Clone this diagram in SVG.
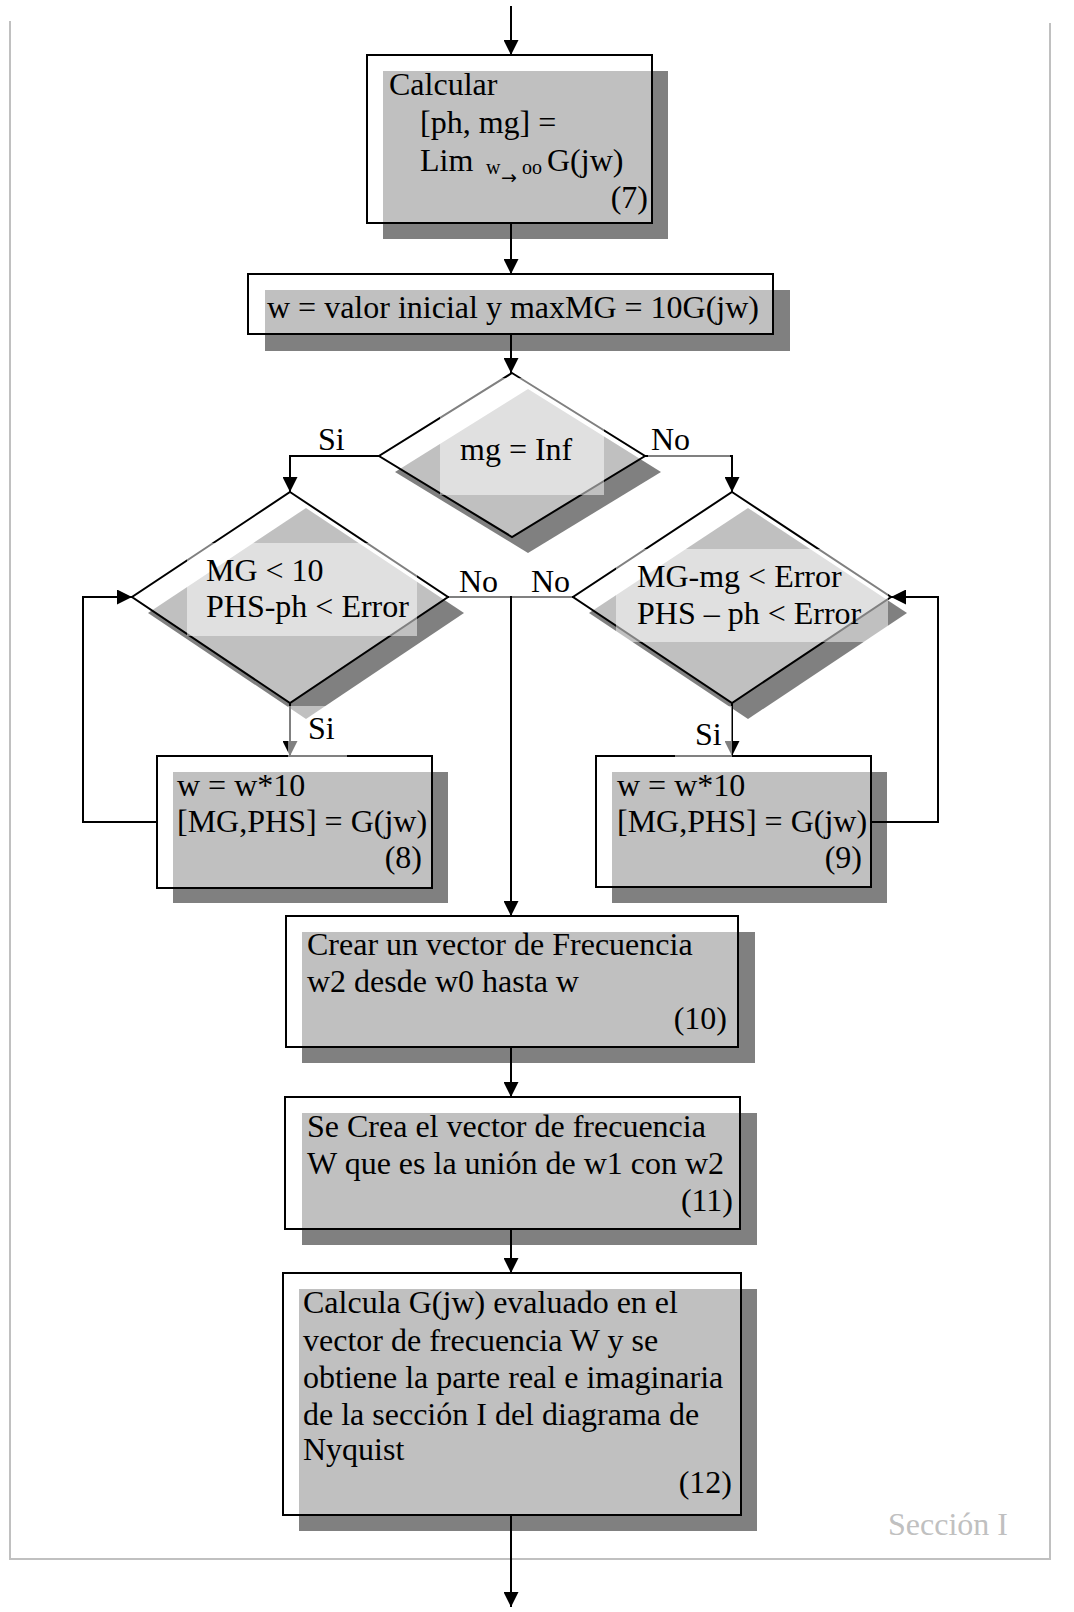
<svg xmlns="http://www.w3.org/2000/svg" width="1074" height="1612" viewBox="0 0 1074 1612">
<style>
.t{font-family:"Liberation Serif","Times New Roman",serif;font-size:32px;fill:#000}
.sub{font-family:"Liberation Serif","Times New Roman",serif;font-size:20px;fill:#000}
.arr{font-family:"DejaVu Sans",sans-serif;font-size:19px;fill:#000}
.sh{fill:#808080;stroke:none}
.box{fill:#fff;fill-opacity:0.5;stroke:#000;stroke-width:2}
.tb{fill:#fff;fill-opacity:0.5;stroke:none}
.c{fill:none;stroke:#000;stroke-width:2}
.fr{fill:none;stroke:#c0c0c0;stroke-width:2}
</style>
<defs>
<marker id="ah" markerWidth="16" markerHeight="15" refX="15" refY="7.5" orient="auto" markerUnits="userSpaceOnUse"><path d="M0,0 L15,7.5 L0,15 z" fill="#000"/></marker>
</defs>
<rect width="1074" height="1612" fill="#fff"/>
<g id="frame">
<polyline class="fr" points="10,21 10,1559 1050,1559 1050,23"/>
<text x="888" y="1535" class="t" style="fill:#c0c0c0">Sección I</text>
</g>
<g id="n7">
<rect class="sh" x="383" y="71" width="285" height="168"/>
<rect class="box" x="367" y="55" width="285" height="168"/>
<text class="t" x="389" y="95">Calcular</text>
<text class="t" x="420" y="133">[ph, mg] =</text>
<text class="t" x="420" y="171">Lim</text>
<text class="sub" x="486" y="174">w</text>
<text class="arr" x="501" y="184">→</text>
<text class="sub" x="522" y="174">oo</text>
<text class="t" x="547" y="171">G(jw)</text>
<text class="t" x="648" y="208" text-anchor="end">(7)</text>
</g>
<g id="nw">
<rect class="sh" x="265" y="290" width="525" height="61"/>
<rect class="box" x="248" y="274" width="525" height="60"/>
<text class="t" x="267" y="318">w = valor inicial y maxMG = 10G(jw)</text>
</g>
<g id="d1">
<polygon class="sh" points="528,389 661,472 528,553 395,472"/>
<polygon class="box" points="512,373 645,456 512,537 379,456"/>
<rect class="tb" x="440" y="378" width="164" height="117"/>
<text class="t" x="460" y="460">mg = Inf</text>
</g>
<g id="d2">
<polygon class="sh" points="306,508 464,613 306,719 148,613"/>
<polygon class="box" points="290,492 448,597 290,703 132,597"/>
<rect class="tb" x="187" y="543" width="230" height="93"/>
<text class="t" x="206" y="581">MG &lt; 10</text>
<text class="t" x="206" y="617">PHS-ph &lt; Error</text>
</g>
<g id="d3">
<polygon class="sh" points="748,508 907,613 748,719 589,613"/>
<polygon class="box" points="732,492 891,597 732,703 573,597"/>
<rect class="tb" x="616" y="549" width="272" height="93"/>
<text class="t" x="637" y="587">MG-mg &lt; Error</text>
<text class="t" x="637" y="624">PHS – ph &lt; Error</text>
</g>
<g id="n8">
<rect class="sh" x="173" y="772" width="275" height="131"/>
<rect class="box" x="157" y="756" width="275" height="132"/>
<text class="t" x="177" y="796">w = w*10</text>
<text class="t" x="177" y="832">[MG,PHS] = G(jw)</text>
<text class="t" x="422" y="868" text-anchor="end">(8)</text>
</g>
<g id="n9">
<rect class="sh" x="612" y="772" width="275" height="131"/>
<rect class="box" x="596" y="756" width="275" height="131"/>
<text class="t" x="617" y="796">w = w*10</text>
<text class="t" x="617" y="832">[MG,PHS] = G(jw)</text>
<text class="t" x="862" y="868" text-anchor="end">(9)</text>
</g>
<g id="n10">
<rect class="sh" x="302" y="932" width="453" height="131"/>
<rect class="box" x="286" y="916" width="452" height="131"/>
<text class="t" x="307" y="955">Crear un vector de Frecuencia</text>
<text class="t" x="307" y="992">w2 desde w0 hasta w</text>
<text class="t" x="727" y="1029" text-anchor="end">(10)</text>
</g>
<g id="n11">
<rect class="sh" x="302" y="1113" width="455" height="132"/>
<rect class="box" x="285" y="1097" width="455" height="132"/>
<text class="t" x="307" y="1137">Se Crea el vector de frecuencia</text>
<text class="t" x="307" y="1174">W que es la unión de w1 con w2</text>
<text class="t" x="733" y="1211" text-anchor="end">(11)</text>
</g>
<g id="n12">
<rect class="sh" x="299" y="1289" width="458" height="242"/>
<rect class="box" x="283" y="1273" width="458" height="242"/>
<text class="t" x="303" y="1313">Calcula G(jw) evaluado en el</text>
<text class="t" x="303" y="1351">vector de frecuencia W y se</text>
<text class="t" x="303" y="1388">obtiene la parte real e imaginaria</text>
<text class="t" x="303" y="1425">de la sección I del diagrama de</text>
<text class="t" x="303" y="1460">Nyquist</text>
<text class="t" x="732" y="1493" text-anchor="end">(12)</text>
</g>
<g id="connectors">
<path class="c" d="M511,6 L511,55" marker-end="url(#ah)"/>
<path class="c" d="M511,223 L511,274" marker-end="url(#ah)"/>
<path class="c" d="M511,334 L511,373" marker-end="url(#ah)"/>
<path class="c" d="M379,456 L290,456 L290,492" marker-end="url(#ah)"/>
<path class="c" d="M645,456 L732,456 L732,492" marker-end="url(#ah)"/>
<path class="c" d="M448,597 L573,597"/>
<path class="c" d="M511,597 L511,916" marker-end="url(#ah)"/>
<path class="c" d="M290,703 L290,756" marker-end="url(#ah)"/>
<path class="c" d="M732,703 L732,756" marker-end="url(#ah)"/>
<path class="c" d="M157,822 L83,822 L83,597 L132,597" marker-end="url(#ah)"/>
<path class="c" d="M871,822 L938,822 L938,597 L891,597" marker-end="url(#ah)"/>
<path class="c" d="M511,1047 L511,1097" marker-end="url(#ah)"/>
<path class="c" d="M511,1229 L511,1273" marker-end="url(#ah)"/>
<path class="c" d="M511,1515 L511,1607" marker-end="url(#ah)"/>
</g>
<g id="labels">
<text class="t" x="318" y="450">Si</text>
<rect class="tb" x="648" y="420" width="82" height="38"/>
<text class="t" x="651" y="450">No</text>
<rect class="tb" x="449" y="565" width="61" height="33"/>
<text class="t" x="459" y="592">No</text>
<rect class="tb" x="512" y="565" width="60" height="33"/>
<text class="t" x="531" y="592">No</text>
<rect class="tb" x="288" y="706" width="59" height="52"/>
<text class="t" x="308" y="739">Si</text>
<rect class="tb" x="675" y="706" width="57" height="52"/>
<text class="t" x="695" y="745">Si</text>
</g>
</svg>
